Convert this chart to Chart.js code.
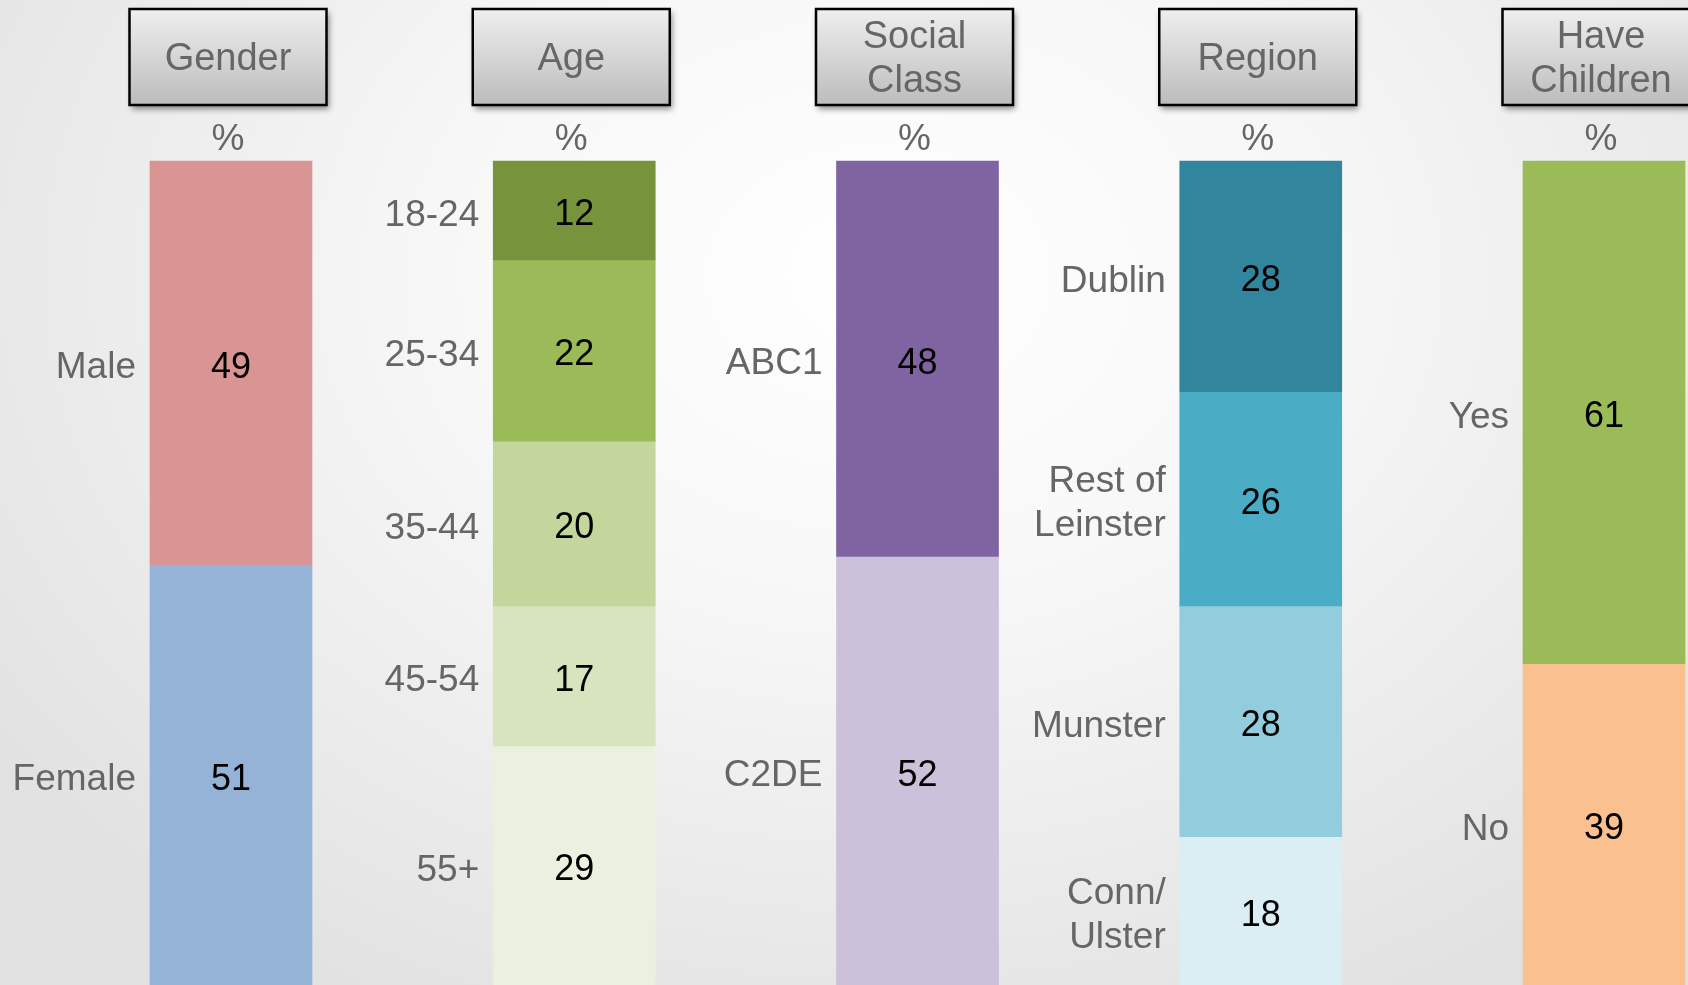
<!DOCTYPE html>
<html>
<head>
<meta charset="utf-8">
<title>Sample profile</title>
<script src="https://cdn.jsdelivr.net/npm/chart.js@4.4.1/dist/chart.umd.min.js"></script>
<style>
  html, body { margin: 0; padding: 0; }
  body {
    width: 1688px;
    height: 985px;
    overflow: hidden;
    background: radial-gradient(ellipse 65% 85% at 52% 28%, #ffffff 0%, #f7f7f7 40%, #e1e1e1 100%);
  }
  #wrap { position: relative; width: 1688px; height: 985px; }
</style>
</head>
<body>
<div id="wrap"><canvas id="profileChart"></canvas></div>
<script>
// groups shown as columns
const groups = ["Gender", "Age", "Social Class", "Region", "Have Children"];
const headerLines = [["Gender"], ["Age"], ["Social", "Class"], ["Region"], ["Have", "Children"]];

// segments, top to bottom
const genderLabels = ["Male", "Female"];
const genderValues = [49, 51];
const genderColors = ["#d99594", "#95b3d7"];

const ageLabels = ["18-24", "25-34", "35-44", "45-54", "55+"];
const ageValues = [12, 22, 20, 17, 29];
const ageColors = ["#77933c", "#9bbb59", "#c3d69b", "#d7e4bd", "#ebf1de"];

const classLabels = ["ABC1", "C2DE"];
const classValues = [48, 52];
const classColors = ["#8064a2", "#ccc1da"];

const regionLabels = ["Dublin", "Rest of\nLeinster", "Munster", "Conn/\nUlster"];
const regionValues = [28, 26, 28, 18];
const regionColors = ["#31859c", "#4bacc6", "#93cddd", "#dbeef4"];

const childrenLabels = ["Yes", "No"];
const childrenValues = [61, 39];
const childrenColors = ["#9bbb59", "#fac090"];

const FONT = '"Liberation Sans", Arial, sans-serif';

const segmentSets = [
  [genderLabels, genderValues, genderColors],
  [ageLabels, ageValues, ageColors],
  [classLabels, classValues, classColors],
  [regionLabels, regionValues, regionColors],
  [childrenLabels, childrenValues, childrenColors],
];

const datasets = [];
segmentSets.forEach(([labels, values, colors], g) => {
  labels.forEach((lab, i) => {
    datasets.push({
      label: lab,
      group: g,
      data: groups.map((_, k) => (k === g ? values[i] : null)),
      backgroundColor: colors[i],
      borderWidth: 0,
      barThickness: 162,
      clip: false,
    });
  });
});

const decorPlugin = {
  id: "decor",
  afterDraw(chart) {
    const ctx = chart.ctx;
    const xs = chart.scales.x;
    ctx.save();

    // header boxes and "%"
    groups.forEach((name, k) => {
      const cx = xs.getPixelForValue(k) - 3;
      const w = 197, h = 96, top = 9;
      const left = cx - w / 2;
      const grad = ctx.createLinearGradient(0, top, 0, top + h);
      grad.addColorStop(0, "#efefef");
      grad.addColorStop(1, "#bcbcbc");
      ctx.save();
      ctx.shadowColor = "rgba(0,0,0,0.45)";
      ctx.shadowBlur = 6;
      ctx.shadowOffsetX = 2;
      ctx.shadowOffsetY = 4;
      ctx.fillStyle = grad;
      ctx.fillRect(left, top, w, h);
      ctx.restore();
      ctx.lineWidth = 2.5;
      ctx.strokeStyle = "#000";
      ctx.strokeRect(left, top, w, h);

      ctx.fillStyle = "#666666";
      ctx.font = "38px " + FONT;
      ctx.textAlign = "center";
      ctx.textBaseline = "middle";
      const lines = headerLines[k];
      if (lines.length === 1) {
        ctx.fillText(lines[0], cx, 60);
      } else {
        ctx.fillText(lines[0], cx, 38);
        ctx.fillText(lines[1], cx, 82);
      }
      ctx.font = "37px " + FONT;
      ctx.fillText("%", cx, 140);
    });

    // segment values and labels
    chart.data.datasets.forEach((ds, i) => {
      const el = chart.getDatasetMeta(i).data[ds.group];
      if (!el) return;
      const v = ds.data[ds.group];
      const cy = (el.y + el.base) / 2;
      ctx.textBaseline = "middle";
      ctx.fillStyle = "#000";
      ctx.font = "36px " + FONT;
      ctx.textAlign = "center";
      ctx.fillText(String(v), el.x, cy + 5);

      ctx.fillStyle = "#666666";
      ctx.font = "37px " + FONT;
      ctx.textAlign = "right";
      const parts = ds.label.split("\n");
      const lh = 44;
      const y0 = cy + 5 - ((parts.length - 1) * lh) / 2;
      parts.forEach((p, j) => {
        ctx.fillText(p, el.x - el.width / 2 - 14, y0 + j * lh);
      });
    });

    ctx.restore();
  },
};

new Chart(document.getElementById("profileChart"), {
  type: "bar",
  data: { labels: groups, datasets: datasets },
  options: {
    responsive: true,
    maintainAspectRatio: false,
    animation: false,
    layout: { padding: { top: 161, left: 231, right: 84, bottom: 0 } },
    plugins: { legend: { display: false }, tooltip: { enabled: false } },
    scales: {
      x: { stacked: true, offset: false, display: false },
      y: { stacked: true, min: 0, max: 100, reverse: true, display: false },
    },
  },
  plugins: [decorPlugin],
});
</script>
</body>
</html>
